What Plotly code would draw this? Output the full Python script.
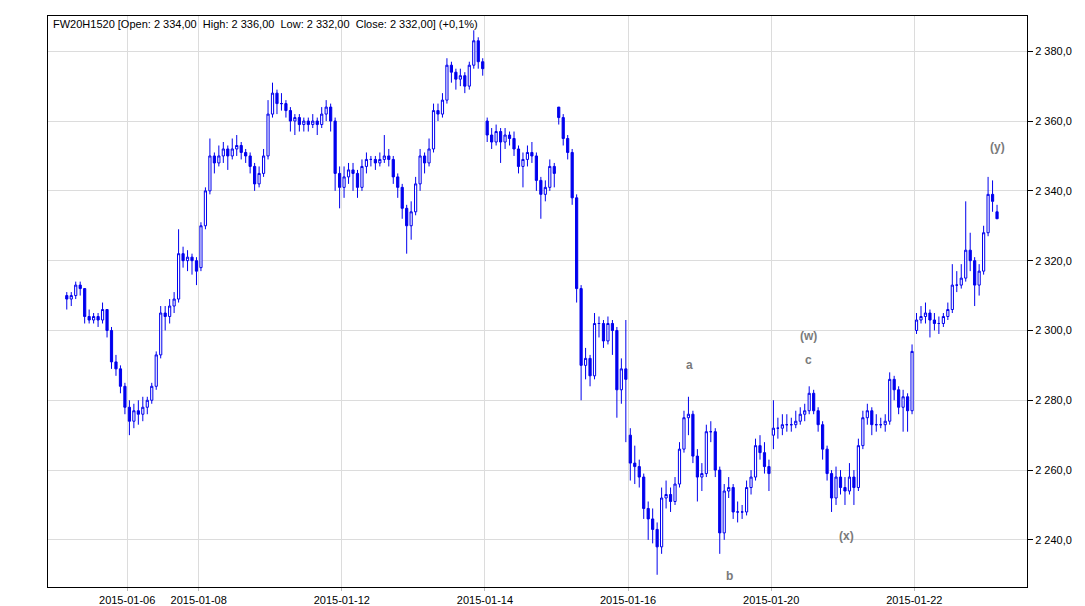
import plotly.graph_objects as go

# ---- data ----
opens = [2310,2309,2310,2313,2312,2304,2303,2304,2303,2306,2300,2291,2289,2284,
         2278,2274,2277,2276,2278,2280,2284,2293,2305,2304,2307,2309,2322,2320,2321,2320,
         2318,2330,2340,2350,2348,2350,2352,2350,2352,2353,2351,2350,2347,2342,2345,2350,
         2362,2368,2365,2365,2363,2360,2361,2359,2360,2359,2360,2359,2362,2364,2360,2345,
         2341,2344,2346,2345,2341,2347,2349,2349,2348,2349,2350,2349,2344,2341,2335,2330,
         2334,2342,2350,2348,2352,2363,2362,2366,2376,2374,2372,2373,2370,2376,2383,2377,
         2360,2356,2354,2357,2354,2356,2355,2352,2347,2349,2351,2350,2343,2339,2341,2347,
         2364,2361,2355,2351,2338,2312,2290,2292,2287,2302,2302,2297,2302,2300,2283,2289,
         2270,2262,2261,2258,2249,2246,2243,2238,2252,2253,2251,2256,2266,2275,2276,2264,
         2258,2259,2271,2271,2260,2242,2254,2255,2248,2248,2248,2255,2258,2267,2265,2261,
         2270,2272,2272,2273,2273,2273,2274,2276,2277,2282,2277,2273,2266,2259,2252,2258,
         2255,2254,2258,2255,2267,2275,2277,2273,2273,2273,2274,2286,2283,2278,2281,2277,
         2300,2303,2304,2305,2303,2302,2302,2304,2306,2313,2313,2315,2323,2320,2313,2317,
         2328,2339,2334]
highs = [2311,2311,2314,2314,2312,2306,2305,2305,2308,2306,2301,2293,2290,2285,
         2280,2279,2280,2281,2281,2285,2294,2307,2307,2309,2311,2329,2324,2323,2322,2321,
         2331,2341,2355,2351,2353,2354,2353,2355,2356,2354,2352,2351,2348,2347,2352,2366,
         2371,2369,2368,2366,2364,2362,2362,2361,2361,2362,2361,2364,2366,2365,2361,2347,
         2347,2348,2348,2346,2349,2351,2350,2350,2351,2356,2352,2350,2345,2342,2336,2337,
         2344,2352,2351,2355,2365,2365,2368,2378,2377,2375,2375,2374,2377,2386,2384,2378,
         2361,2358,2359,2358,2358,2357,2357,2353,2351,2353,2354,2351,2344,2343,2349,2348,
         2364,2362,2356,2352,2339,2313,2295,2293,2305,2304,2303,2304,2303,2301,2292,2303,
         2272,2267,2263,2259,2251,2249,2245,2255,2257,2255,2258,2268,2277,2281,2277,2266,
         2262,2273,2274,2272,2261,2256,2258,2256,2251,2250,2257,2260,2269,2270,2268,2263,
         2280,2275,2276,2276,2275,2277,2278,2279,2284,2283,2278,2274,2267,2260,2261,2260,
         2258,2262,2260,2269,2277,2279,2278,2276,2275,2276,2288,2287,2284,2283,2282,2296,
         2305,2307,2308,2306,2305,2304,2305,2308,2319,2317,2319,2337,2328,2321,2319,2330,
         2344,2343,2336]
lows = [2306,2307,2309,2310,2302,2302,2302,2301,2302,2298,2289,2287,2282,2276,
        2270,2272,2273,2274,2276,2279,2283,2292,2300,2302,2305,2308,2318,2317,2316,2313,
        2317,2329,2339,2345,2347,2348,2346,2349,2350,2349,2348,2345,2340,2341,2344,2349,
        2361,2362,2363,2361,2357,2356,2357,2357,2357,2358,2356,2358,2360,2357,2340,2335,
        2338,2342,2340,2338,2340,2345,2347,2346,2347,2348,2347,2342,2338,2332,2322,2326,
        2333,2340,2345,2347,2351,2360,2361,2365,2371,2369,2370,2368,2369,2375,2375,2373,
        2354,2352,2353,2348,2352,2353,2350,2345,2341,2347,2348,2340,2332,2337,2340,2341,
        2359,2353,2349,2336,2308,2280,2286,2284,2286,2298,2295,2296,2293,2275,2279,2268,
        2257,2256,2255,2246,2240,2239,2230,2236,2249,2248,2250,2255,2265,2270,2262,2251,
        2254,2258,2268,2258,2236,2240,2252,2246,2245,2246,2247,2253,2257,2263,2259,2254,
        2266,2269,2270,2271,2271,2272,2273,2274,2276,2276,2271,2263,2257,2248,2250,2253,
        2250,2253,2250,2254,2266,2273,2270,2271,2272,2271,2273,2280,2276,2271,2271,2276,
        2299,2302,2302,2298,2300,2299,2301,2303,2305,2311,2312,2314,2317,2307,2310,2316,
        2327,2334,2332]
closes = [2309,2310,2313,2312,2304,2303,2304,2303,2306,2300,2291,2289,2284,2278,
          2274,2277,2276,2278,2280,2284,2293,2305,2304,2307,2309,2322,2320,2321,2320,2317,
          2330,2340,2350,2348,2350,2352,2350,2352,2353,2351,2350,2347,2342,2345,2350,2362,
          2368,2365,2365,2363,2360,2361,2359,2360,2359,2360,2359,2362,2364,2360,2345,2341,
          2344,2346,2345,2341,2347,2349,2349,2348,2349,2350,2349,2344,2341,2335,2330,2334,
          2342,2350,2348,2352,2363,2362,2366,2376,2374,2372,2373,2370,2376,2383,2377,2375,
          2356,2354,2357,2354,2356,2355,2352,2347,2349,2351,2350,2343,2339,2341,2347,2345,
          2361,2355,2351,2338,2312,2290,2292,2287,2302,2302,2297,2302,2300,2283,2289,2286,
          2262,2261,2258,2249,2246,2243,2238,2252,2253,2251,2256,2266,2275,2276,2264,2258,
          2259,2271,2271,2260,2242,2254,2255,2248,2248,2248,2255,2258,2267,2265,2261,2259,
          2272,2272,2273,2273,2273,2274,2276,2277,2282,2277,2273,2266,2259,2252,2258,2255,
          2254,2258,2255,2267,2275,2277,2273,2273,2273,2274,2286,2283,2278,2281,2277,2294,
          2303,2304,2305,2303,2302,2302,2304,2306,2313,2313,2315,2323,2320,2313,2317,2328,
          2339,2337,2332]

# x tick labels (date boundaries) and their bar positions
tick_labels = ["2015-01-06", "2015-01-08", "2015-01-12", "2015-01-14",
               "2015-01-16", "2015-01-20", "2015-01-22"]
tick_bars = [13.5, 29.5, 61.5, 93.5, 125.5, 157.5, 189.5]

# wave labels: text, bar position, price
wave_text = ["a", "b", "(w)", "c", "(x)", "(y)"]
wave_bar = [139.3, 148.1, 165.9, 165.9, 174.4, 208.2]
wave_price = [2290.2, 2229.7, 2298.5, 2291.4, 2241.2, 2352.5]

y_ticks = [2240, 2260, 2280, 2300, 2320, 2340, 2360, 2380]

header = ("FW20H1520 [Open: 2 334,00\u00a0 High: 2 336,00\u00a0 Low: 2 332,00\u00a0 "
          "Close: 2 332,00] (+0,1%)")

bars = list(range(len(closes)))
BLUE = "#0000ee"
FONT = "Liberation Sans, Arial, sans-serif"

fig = go.Figure()
fig.add_trace(go.Candlestick(
    x=bars, open=opens, high=highs, low=lows, close=closes,
    increasing=dict(line=dict(color=BLUE, width=1), fillcolor="white"),
    decreasing=dict(line=dict(color=BLUE, width=1), fillcolor=BLUE),
    whiskerwidth=0, showlegend=False, hoverinfo="skip",
))

for t, xb, yp in zip(wave_text, wave_bar, wave_price):
    fig.add_annotation(x=xb, y=yp, text="<b>" + t + "</b>", showarrow=False,
                       font=dict(family=FONT, size=12, color="#7a7a7a"))

fig.add_annotation(xref="paper", yref="paper", x=0, y=1, xanchor="left", yanchor="top",
                   xshift=3, yshift=0, text=header, showarrow=False,
                   font=dict(family=FONT, size=11, color="black"))

fig.update_layout(
    width=1085, height=606,
    margin=dict(l=48, r=58, t=16, b=19, autoexpand=False),
    paper_bgcolor="white", plot_bgcolor="white",
    separators=", ",
    font=dict(family=FONT, size=11, color="black"),
    showlegend=False,
)
fig.update_xaxes(
    range=[-4.2, 214.7], rangeslider_visible=False,
    tickvals=tick_bars, ticktext=tick_labels,
    showgrid=True, gridcolor="#dcdcdc", gridwidth=1,
    showline=True, linecolor="black", linewidth=1, mirror=True,
    ticks="outside", ticklen=3, tickcolor="#bbbbbb", zeroline=False,
)
fig.update_yaxes(
    range=[2226.5, 2390.1], side="right",
    tickvals=y_ticks, tickformat=",.1f",
    showgrid=True, gridcolor="#dcdcdc", gridwidth=1,
    showline=True, linecolor="black", linewidth=1, mirror=True,
    ticks="outside", ticklen=5, tickcolor="black", zeroline=False,
)

fig.write_html("out.html", config={"displayModeBar": False},
               post_script="document.body.style.margin='0';document.body.style.overflow='hidden';")
